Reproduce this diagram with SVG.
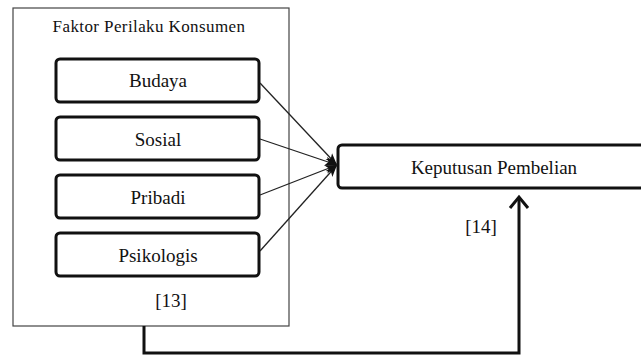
<svg xmlns="http://www.w3.org/2000/svg" width="641" height="358" viewBox="0 0 641 358">
<style>
text{font-family:"Liberation Serif","Times New Roman",serif;fill:#111;text-anchor:middle}
.box{fill:#fff;stroke:#111;stroke-width:3}
.thin{fill:none;stroke:#222;stroke-width:1.3}
.thick{fill:none;stroke:#111;stroke-width:3}
</style>
<defs>
<marker id="ah" viewBox="0 0 12 10" refX="12" refY="5" markerWidth="12" markerHeight="10" markerUnits="userSpaceOnUse" orient="auto">
<path d="M0,0.5 L12,5 L0,9.5 L3,5 Z" fill="#111"/>
</marker>
</defs>
<g id="faktor">
<rect x="13" y="8" width="276" height="318" fill="#fff" stroke="#444" stroke-width="1.2"/>
<text x="149" y="32" font-size="17" letter-spacing="0.4">Faktor Perilaku Konsumen</text>
<text x="171" y="307" font-size="19">[13]</text>
</g>
<g id="budaya"><rect class="box" x="56" y="59" width="203" height="43" rx="4"/><text x="158" y="87" font-size="19">Budaya</text></g>
<g id="sosial"><rect class="box" x="56" y="117" width="203" height="43" rx="4"/><text x="158" y="146" font-size="19">Sosial</text></g>
<g id="pribadi"><rect class="box" x="56" y="175" width="203" height="43" rx="4"/><text x="158" y="204" font-size="19">Pribadi</text></g>
<g id="psikologis"><rect class="box" x="56" y="233" width="203" height="43" rx="4"/><text x="158" y="262" font-size="19">Psikologis</text></g>
<g id="keputusan"><rect class="box" x="338" y="145" width="310" height="43" rx="4"/><text x="494" y="174" font-size="19">Keputusan Pembelian</text></g>
<text x="481" y="233" font-size="19">[14]</text>
<g id="connectors">
<line class="thin" x1="260" y1="83" x2="337" y2="165" marker-end="url(#ah)"/>
<line class="thin" x1="260" y1="139" x2="337" y2="165" marker-end="url(#ah)"/>
<line class="thin" x1="260" y1="195" x2="337" y2="165" marker-end="url(#ah)"/>
<line class="thin" x1="260" y1="251" x2="337" y2="165" marker-end="url(#ah)"/>
<path class="thick" d="M144,326 V353 H519 V198"/>
<path class="thick" d="M510,208 L519,197 L528,208"/>
</g>
</svg>
